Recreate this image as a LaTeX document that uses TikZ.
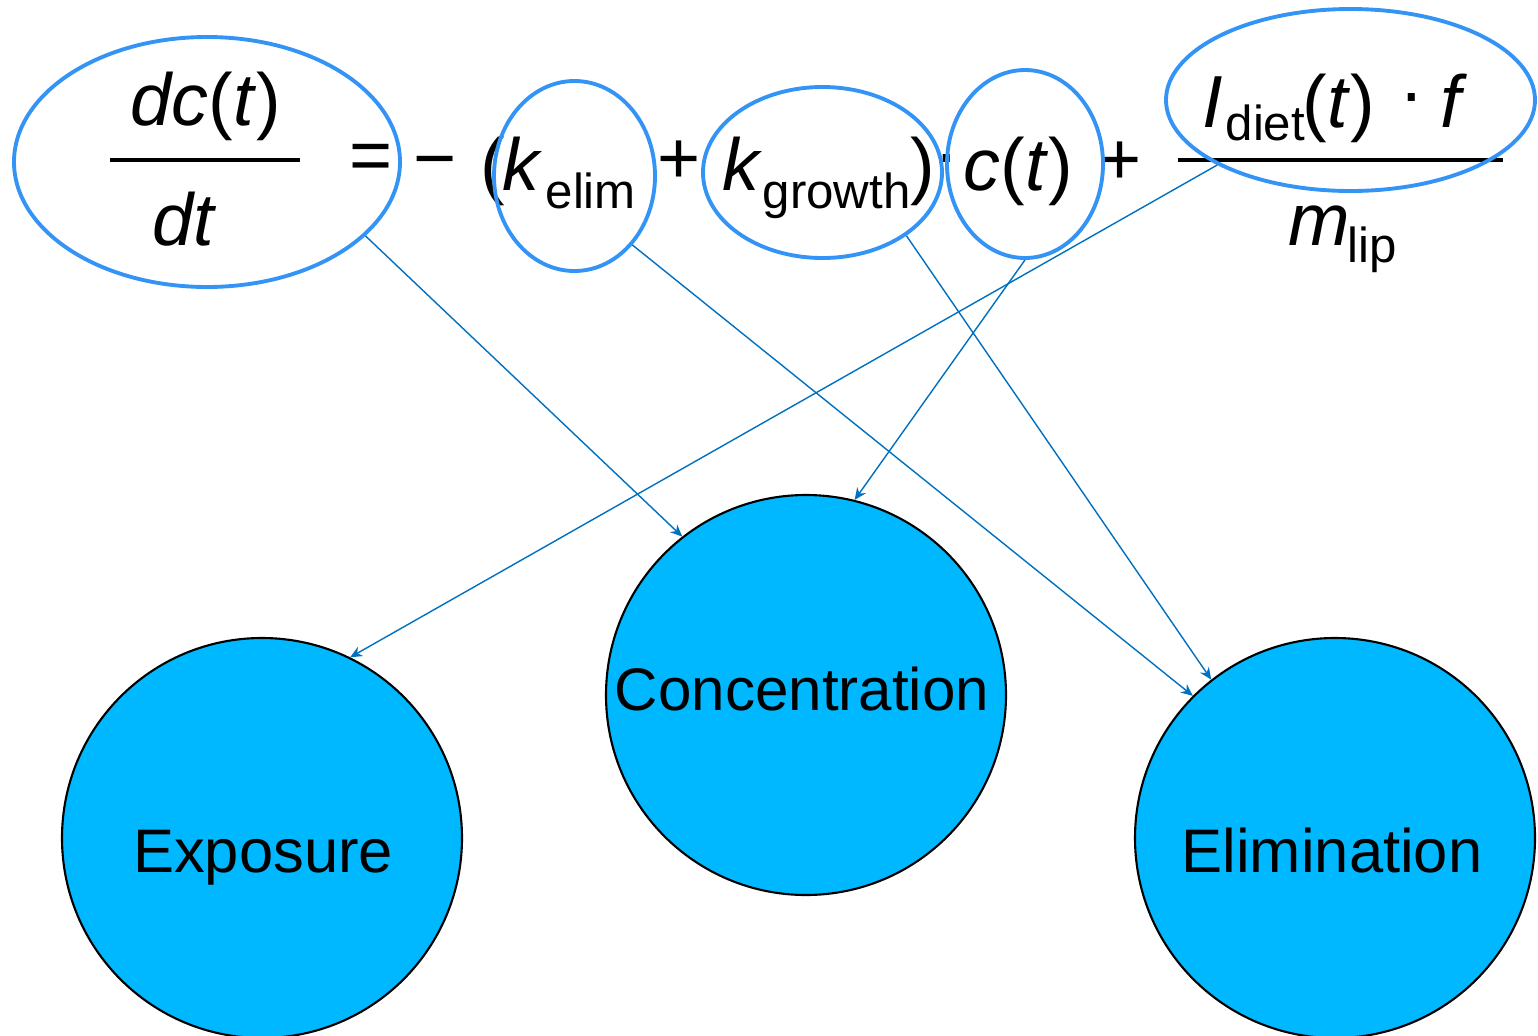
\documentclass[tikz,border=0pt]{standalone}
\usepackage{fontspec}
\setmainfont{Liberation Sans}
\usetikzlibrary{shapes.geometric,arrows.meta}
\definecolor{ringblue}{RGB}{51,148,245}
\definecolor{arrowblue}{RGB}{0,112,192}
\definecolor{ballblue}{RGB}{0,184,255}
\tikzset{
 ring/.style={draw=ringblue,line width=1.1pt,ellipse,inner sep=0pt},
 ball/.style={circle,draw=black,line width=0.6pt,fill=ballblue,minimum size=4cm,inner sep=0pt},
 balltext/.style={font=\fontsize{17.5}{20}\selectfont,inner sep=0pt,anchor=base},
 eq/.style={font=\fontsize{21}{25}\selectfont,inner sep=0pt,anchor=base west},
 eqc/.style={font=\fontsize{21}{25}\selectfont,inner sep=0pt,anchor=center},
 sub/.style={font=\fontsize{14}{16}\selectfont,inner sep=0pt,anchor=base west},
 link/.style={draw=arrowblue,line width=0.4pt,-{Stealth[length=3.4pt,width=3pt]}},
 fracbar/.style={line width=1.1pt}
}
\begin{document}
\begin{tikzpicture}
\useasboundingbox (0,0) rectangle (15.38,-10.36);
% circles
\node[ball] (expo) at (2.62,-8.38) {};
\node[ball] (conc) at (8.06,-6.95) {};
\node[ball] (elim) at (13.35,-8.38) {};
\node[balltext] (expot) at (2.63,-8.72) {Exposure};
\node[balltext,font=\fontsize{17.1}{20}\selectfont] (conct) at (8.02,-7.10) {Concentration};
\node[balltext] (elimt) at (13.32,-8.72) {Elimination};
% equation text
\node[eq] (dct) at (1.30,-1.25) {\textit{dc}(\textit{t})};
\draw[fracbar] (1.10,-1.60) -- (3.00,-1.60);
\node[eq] (dt) at (1.52,-2.45) {\textit{dt}};
\node[eqc] (eqsign) at (3.71,-1.62) {=};
\node[eqc] (minus) at (4.35,-1.70) {−};
\node[eq] (lpar) at (4.80,-1.90) {(};
\node[eq] (k1) at (5.02,-1.90) {\textit{k}};
\node[sub] (s1) at (5.45,-2.08) {elim};
\node[eqc] (plus1) at (6.79,-1.62) {+};
\node[eq] (k2) at (7.22,-1.90) {\textit{k}};
\node[sub] (s2) at (7.62,-2.08) {growth};
\node[eq] (rpar) at (9.10,-1.90) {)};
\node[eqc] (dot1) at (9.47,-1.66) {·};
\node[eq] (ct) at (9.63,-1.90) {\textit{c}(\textit{t})};
\node[eqc] (plus2) at (11.20,-1.63) {+};
\draw[fracbar] (11.78,-1.60) -- (15.03,-1.60);
\node[eq] (idiet) at (12.02,-1.27) {\textit{I}};
\node[sub] (s3) at (12.25,-1.40) {diet};
\node[eq] (tt) at (13.02,-1.27) {(\textit{t})};
\node[eqc] (dot2) at (14.12,-1.05) {·};
\node[eq] (ff) at (14.40,-1.27) {\textit{f}};
\node[eq] (mm) at (12.88,-2.45) {\textit{m}};
\node[sub] (s4) at (13.47,-2.62) {lip};
% rings
\node[ring,minimum width=3.86cm,minimum height=2.50cm] (r1) at (2.07,-1.62) {};
\node[ring,minimum width=1.61cm,minimum height=1.90cm] (r2) at (5.745,-1.76) {};
\node[ring,minimum width=2.39cm,minimum height=1.71cm] (r3) at (8.225,-1.725) {};
\node[ring,minimum width=1.56cm,minimum height=1.88cm] (r4) at (10.25,-1.64) {};
\node[ring,minimum width=3.69cm,minimum height=1.82cm] (r5) at (13.505,-1.00) {};
% links
\draw[link] (r1.-25) -- (conc.128);
\draw[link] (r2.-50) -- (elim.135);
\draw[link] (r3.-37) -- (elim.128);
\draw[link] (r4.-90) -- (conc.76);
\draw[link] (r5.206.6) -- (expo.64.6);
\end{tikzpicture}
\end{document}
